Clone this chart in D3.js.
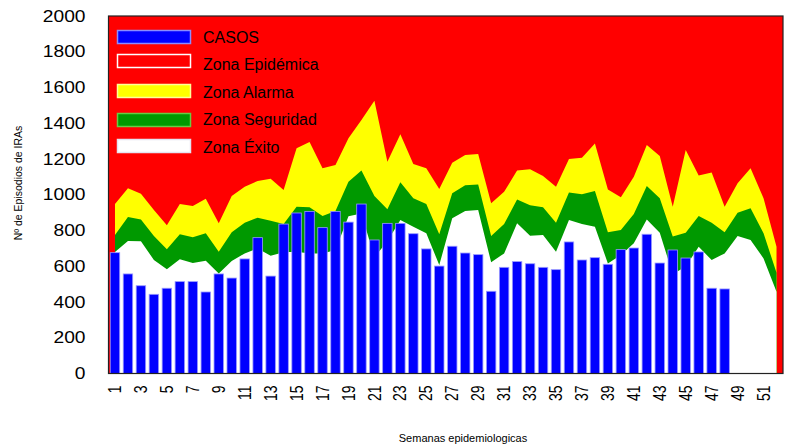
<!DOCTYPE html>
<html>
<head>
<meta charset="utf-8">
<script src="https://cdn.jsdelivr.net/npm/d3@7"></script>
<style>
  body { margin: 0; background: #fff; }
  text { font-family: "Liberation Sans", Arial, sans-serif; }
</style>
</head>
<body>
<div id="chart"></div>
<script>
// semanas epidemiologicas 1..52
var weeks = d3.range(1, 53);

// casos observados (semanas 1-48)
var casos = [676, 557, 491, 443, 477, 514, 514, 456, 557, 534,
             641, 760, 545, 836, 898, 907, 816, 907, 847, 948,
             747, 840, 840, 782, 697, 601, 712, 674, 665, 460,
             594, 626, 614, 594, 581, 736, 635, 648, 611, 693,
             702, 779, 618, 691, 646, 680, 477, 473];

// limites superiores de cada zona del canal endemico
var exitoTop = [680, 741, 740, 635, 583, 639, 618, 631, 560, 629,
                672, 700, 659, 678, 681, 672, 672, 691, 880, 895,
                650, 740, 859, 821, 784, 607, 868, 909, 915, 622,
                672, 840, 771, 775, 681, 859, 836, 821, 616, 663,
                728, 862, 788, 555, 598, 709, 635, 672, 769, 747,
                644, 458];

var seguridadTop = [775, 876, 861, 769, 695, 779, 762, 784, 681, 790,
                    844, 872, 855, 836, 933, 930, 881, 909, 1073, 1135,
                    993, 919, 1070, 980, 948, 779, 1008, 1053, 1058, 769,
                    836, 974, 941, 930, 844, 1012, 1003, 1021, 790, 803,
                    893, 1049, 980, 766, 788, 881, 844, 790, 900, 924,
                    784, 564];

var alarmaTop = [948, 1036, 1006, 915, 829, 948, 937, 978, 840, 993,
                 1045, 1077, 1090, 1027, 1260, 1295, 1148, 1166, 1316, 1418,
                 1526, 1185, 1338, 1172, 1148, 1032, 1179, 1222, 1228, 952,
                 1017, 1135, 1142, 1105, 1045, 1200, 1207, 1287, 1030, 986,
                 1101, 1278, 1217, 933, 1250, 1107, 1124, 933, 1064, 1148,
                 980, 709];

var yTicks = [0, 200, 400, 600, 800, 1000, 1200, 1400, 1600, 1800, 2000];

var legendLabels = ['CASOS', 'Zona Epidémica', 'Zona Alarma', 'Zona Seguridad', 'Zona Éxito'];
var legendFills = ['#0000ff', '#ff0000', '#ffff00', '#009900', '#ffffff'];
var legendStrokes = ['#8c8cff', '#ffffff', '#ffff99', '#66cc44', '#e4e4f0'];

var W = 787, H = 445;
// (no "top" here: window.top is read-only)
var plotL = 108.5, plotR = 783, plotT = 16, plotB = 373.5;

var svg = d3.select('#chart').append('svg')
    .attr('width', W).attr('height', H);

var x = d3.scaleBand()
    .domain(weeks)
    .range([plotL, plotR])
    .paddingInner(0.27)
    .paddingOuter(0.135);

var y = d3.scaleLinear()
    .domain([0, 2000])
    .range([plotB, plotT]);

var cx = function(w){ return x(w) + x.bandwidth() / 2; };

// fondo rojo = zona epidemica
svg.append('rect')
    .attr('x', plotL).attr('y', plotT)
    .attr('width', plotR - plotL).attr('height', plotB - plotT)
    .attr('fill', '#ff0000');

function zone(values, color) {
    var area = d3.area()
        .x(function(d, i){ return cx(weeks[i]); })
        .y0(y(0))
        .y1(function(d){ return y(d); });
    svg.append('path')
        .datum(values)
        .attr('d', area)
        .attr('fill', color);
}
zone(alarmaTop, '#ffff00');
zone(seguridadTop, '#009900');
zone(exitoTop, '#ffffff');

// barras de casos
svg.selectAll('rect.bar')
    .data(casos)
    .enter()
    .append('rect')
    .attr('class', 'bar')
    .attr('x', function(d, i){ return x(weeks[i]); })
    .attr('y', function(d){ return y(d); })
    .attr('width', x.bandwidth())
    .attr('height', function(d){ return y(0) - y(d); })
    .attr('fill', '#0000ff')
    .attr('stroke', '#9a9aff')
    .attr('stroke-width', 0.8);

// marco
svg.append('rect')
    .attr('x', plotL).attr('y', plotT)
    .attr('width', plotR - plotL).attr('height', plotB - plotT)
    .attr('fill', 'none')
    .attr('stroke', '#222')
    .attr('stroke-width', 1.2);

// eje y (sin marcas) - numeros algo ensanchados como en el original
var yAxis = svg.append('g')
    .attr('transform', 'translate(' + plotL + ',0)')
    .call(d3.axisLeft(y).tickValues(yTicks).tickSize(0).tickFormat(d3.format('d')));
yAxis.select('.domain').remove();
yAxis.selectAll('text')
    .attr('font-size', 16)
    .attr('fill', '#000')
    .attr('font-family', '"Liberation Sans", Arial, sans-serif')
    .attr('x', -23 / 1.2)
    .attr('transform', 'scale(1.2,1)');

// eje x: semanas impares, texto vertical
var xAxis = svg.append('g')
    .attr('transform', 'translate(0,' + plotB + ')')
    .call(d3.axisBottom(x).tickValues(weeks.filter(function(w){ return w % 2 === 1; })).tickSize(0));
xAxis.select('.domain').remove();
xAxis.selectAll('text')
    .attr('font-size', 14)
    .attr('fill', '#000')
    .attr('font-family', '"Liberation Sans", Arial, sans-serif')
    .attr('transform', 'rotate(-90) scale(1,1.25)')
    .attr('text-anchor', 'end')
    .attr('x', -12)
    .attr('y', 0)
    .attr('dy', '0.35em');

// titulos de ejes
svg.append('text')
    .attr('x', 463).attr('y', 442)
    .attr('text-anchor', 'middle')
    .attr('font-size', 11)
    .text('Semanas epidemiologicas');

svg.append('text')
    .attr('transform', 'translate(22,183) rotate(-90)')
    .attr('text-anchor', 'middle')
    .attr('font-size', 10.5)
    .text('Nº de Episodios de IRAs');

// leyenda
var swatchY = [37, 61, 91, 120, 146];
var lg = svg.append('g');
legendLabels.forEach(function(label, i){
    lg.append('rect')
        .attr('x', 117.5).attr('y', swatchY[i] - 6.5)
        .attr('width', 73).attr('height', 13)
        .attr('fill', legendFills[i])
        .attr('stroke', legendStrokes[i])
        .attr('stroke-width', 1.5);
    lg.append('text')
        .attr('x', 203).attr('y', 37 + i * 27.5)
        .attr('dy', '0.35em')
        .attr('font-size', 16)
        .text(label);
});
</script>
</body>
</html>
